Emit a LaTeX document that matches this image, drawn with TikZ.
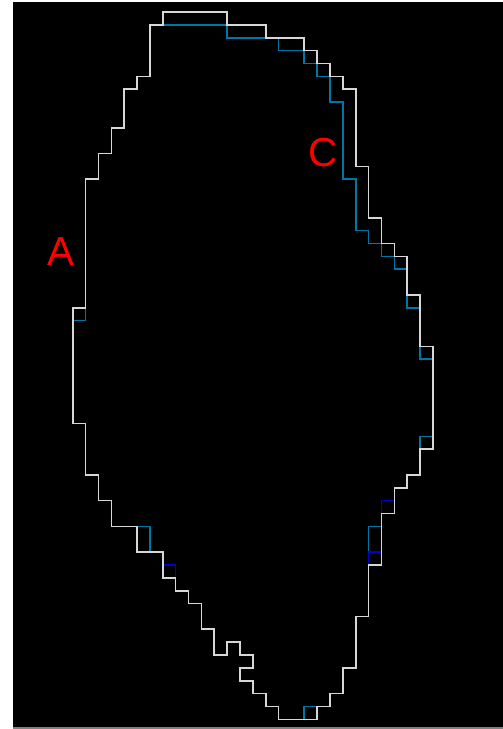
\documentclass[tikz,border=0pt]{standalone}
\usepackage{fontspec}
\setmainfont{Liberation Sans}
\definecolor{outline}{RGB}{215,215,215}
\definecolor{tealline}{RGB}{0,118,165}
\definecolor{deepblue}{RGB}{0,0,200}
\definecolor{labelred}{RGB}{255,0,0}
\begin{document}
\begin{tikzpicture}[x=1pt,y=-1pt,
  whiteline/.style={draw=outline,line width=1.6pt,line join=miter},
  tealstroke/.style={draw=tealline,line width=1.6pt},
  bluestroke/.style={draw=deepblue,line width=1.6pt},
  letter/.style={text=labelred,inner sep=0pt,font=\fontsize{40.5}{40}\selectfont}]
  % page and dark canvas
  \fill[white] (0,0) rectangle (503,729);
  \fill[black] (13,2) rectangle (503,727);
  \fill[gray] (13,727) rectangle (503,729);
  \useasboundingbox (0,0) rectangle (503,729);

  % grid: one cell is 12.86 px
  \begin{scope}[xshift=72.8pt,yshift=-12pt,x=12.86pt,y=-12.86pt]
    % inner contour (teal)
    \draw[tealstroke] (7,1) -- (12,1) -- (12,2) -- (16,2) -- (16,3) -- (18,3)
      -- (18,4) -- (19,4) -- (19,5) -- (20,5) -- (20,7) -- (21,7) -- (21,13)
      -- (22,13) -- (22,17) -- (23,17) -- (23,18) -- (24,18) -- (24,19)
      -- (25,19) -- (25,20) -- (26,20) -- (26,23) -- (27,23) -- (27,27) -- (28,27);
    \draw[tealstroke] (28,33) -- (27,33) -- (27,34);
    \draw[tealstroke] (24,40) -- (23,40) -- (23,42);
    \draw[tealstroke] (18,55) -- (18,54) -- (19,54);
    \draw[tealstroke] (5,40) -- (6,40) -- (6,42);
    \draw[tealstroke] (0,24) -- (1,24) -- (1,23);
    % deep blue cells
    \draw[bluestroke] (25,38) -- (24,38) -- (24,39);
    \draw[bluestroke] (24,42) -- (23,42) -- (23,43);
    \draw[bluestroke] (7,43) -- (8,43) -- (8,44);

    % outer contour
    \draw[whiteline] (7,0) -- (12,0) -- (12,1) -- (15,1) -- (15,2) -- (18,2)
      -- (18,3) -- (19,3) -- (19,4) -- (20,4) -- (20,5) -- (21,5) -- (21,6)
      -- (22,6) -- (22,12) -- (23,12) -- (23,16) -- (24,16) -- (24,18)
      -- (25,18) -- (25,19) -- (26,19) -- (26,22) -- (27,22) -- (27,26)
      -- (28,26) -- (28,34) -- (27,34) -- (27,36) -- (26,36) -- (26,37)
      -- (25,37) -- (25,39) -- (24,39) -- (24,43) -- (23,43) -- (23,47)
      -- (22,47) -- (22,51) -- (21,51) -- (21,53) -- (20,53) -- (20,54)
      -- (19,54) -- (19,55) -- (16,55) -- (16,54) -- (15,54) -- (15,53)
      -- (14,53) -- (14,52) -- (13,52) -- (13,51) -- (14,51) -- (14,50)
      -- (13,50) -- (13,49) -- (12,49) -- (12,50) -- (11,50) -- (11,48)
      -- (10,48) -- (10,46) -- (9,46) -- (9,45) -- (8,45) -- (8,44)
      -- (7,44) -- (7,42) -- (5,42) -- (5,40) -- (3,40) -- (3,38) -- (2,38)
      -- (2,36) -- (1,36) -- (1,32) -- (0,32) -- (0,23) -- (1,23) -- (1,13)
      -- (2,13) -- (2,11) -- (3,11) -- (3,9) -- (4,9) -- (4,6) -- (5,6)
      -- (5,5) -- (6,5) -- (6,1) -- (7,1) -- cycle;
  \end{scope}

  % labels
  \node[letter] (labelA) at (61.5,251.5) {A};
  \node[letter] (labelC) at (323.3,152.2) {C};
\end{tikzpicture}
\end{document}
